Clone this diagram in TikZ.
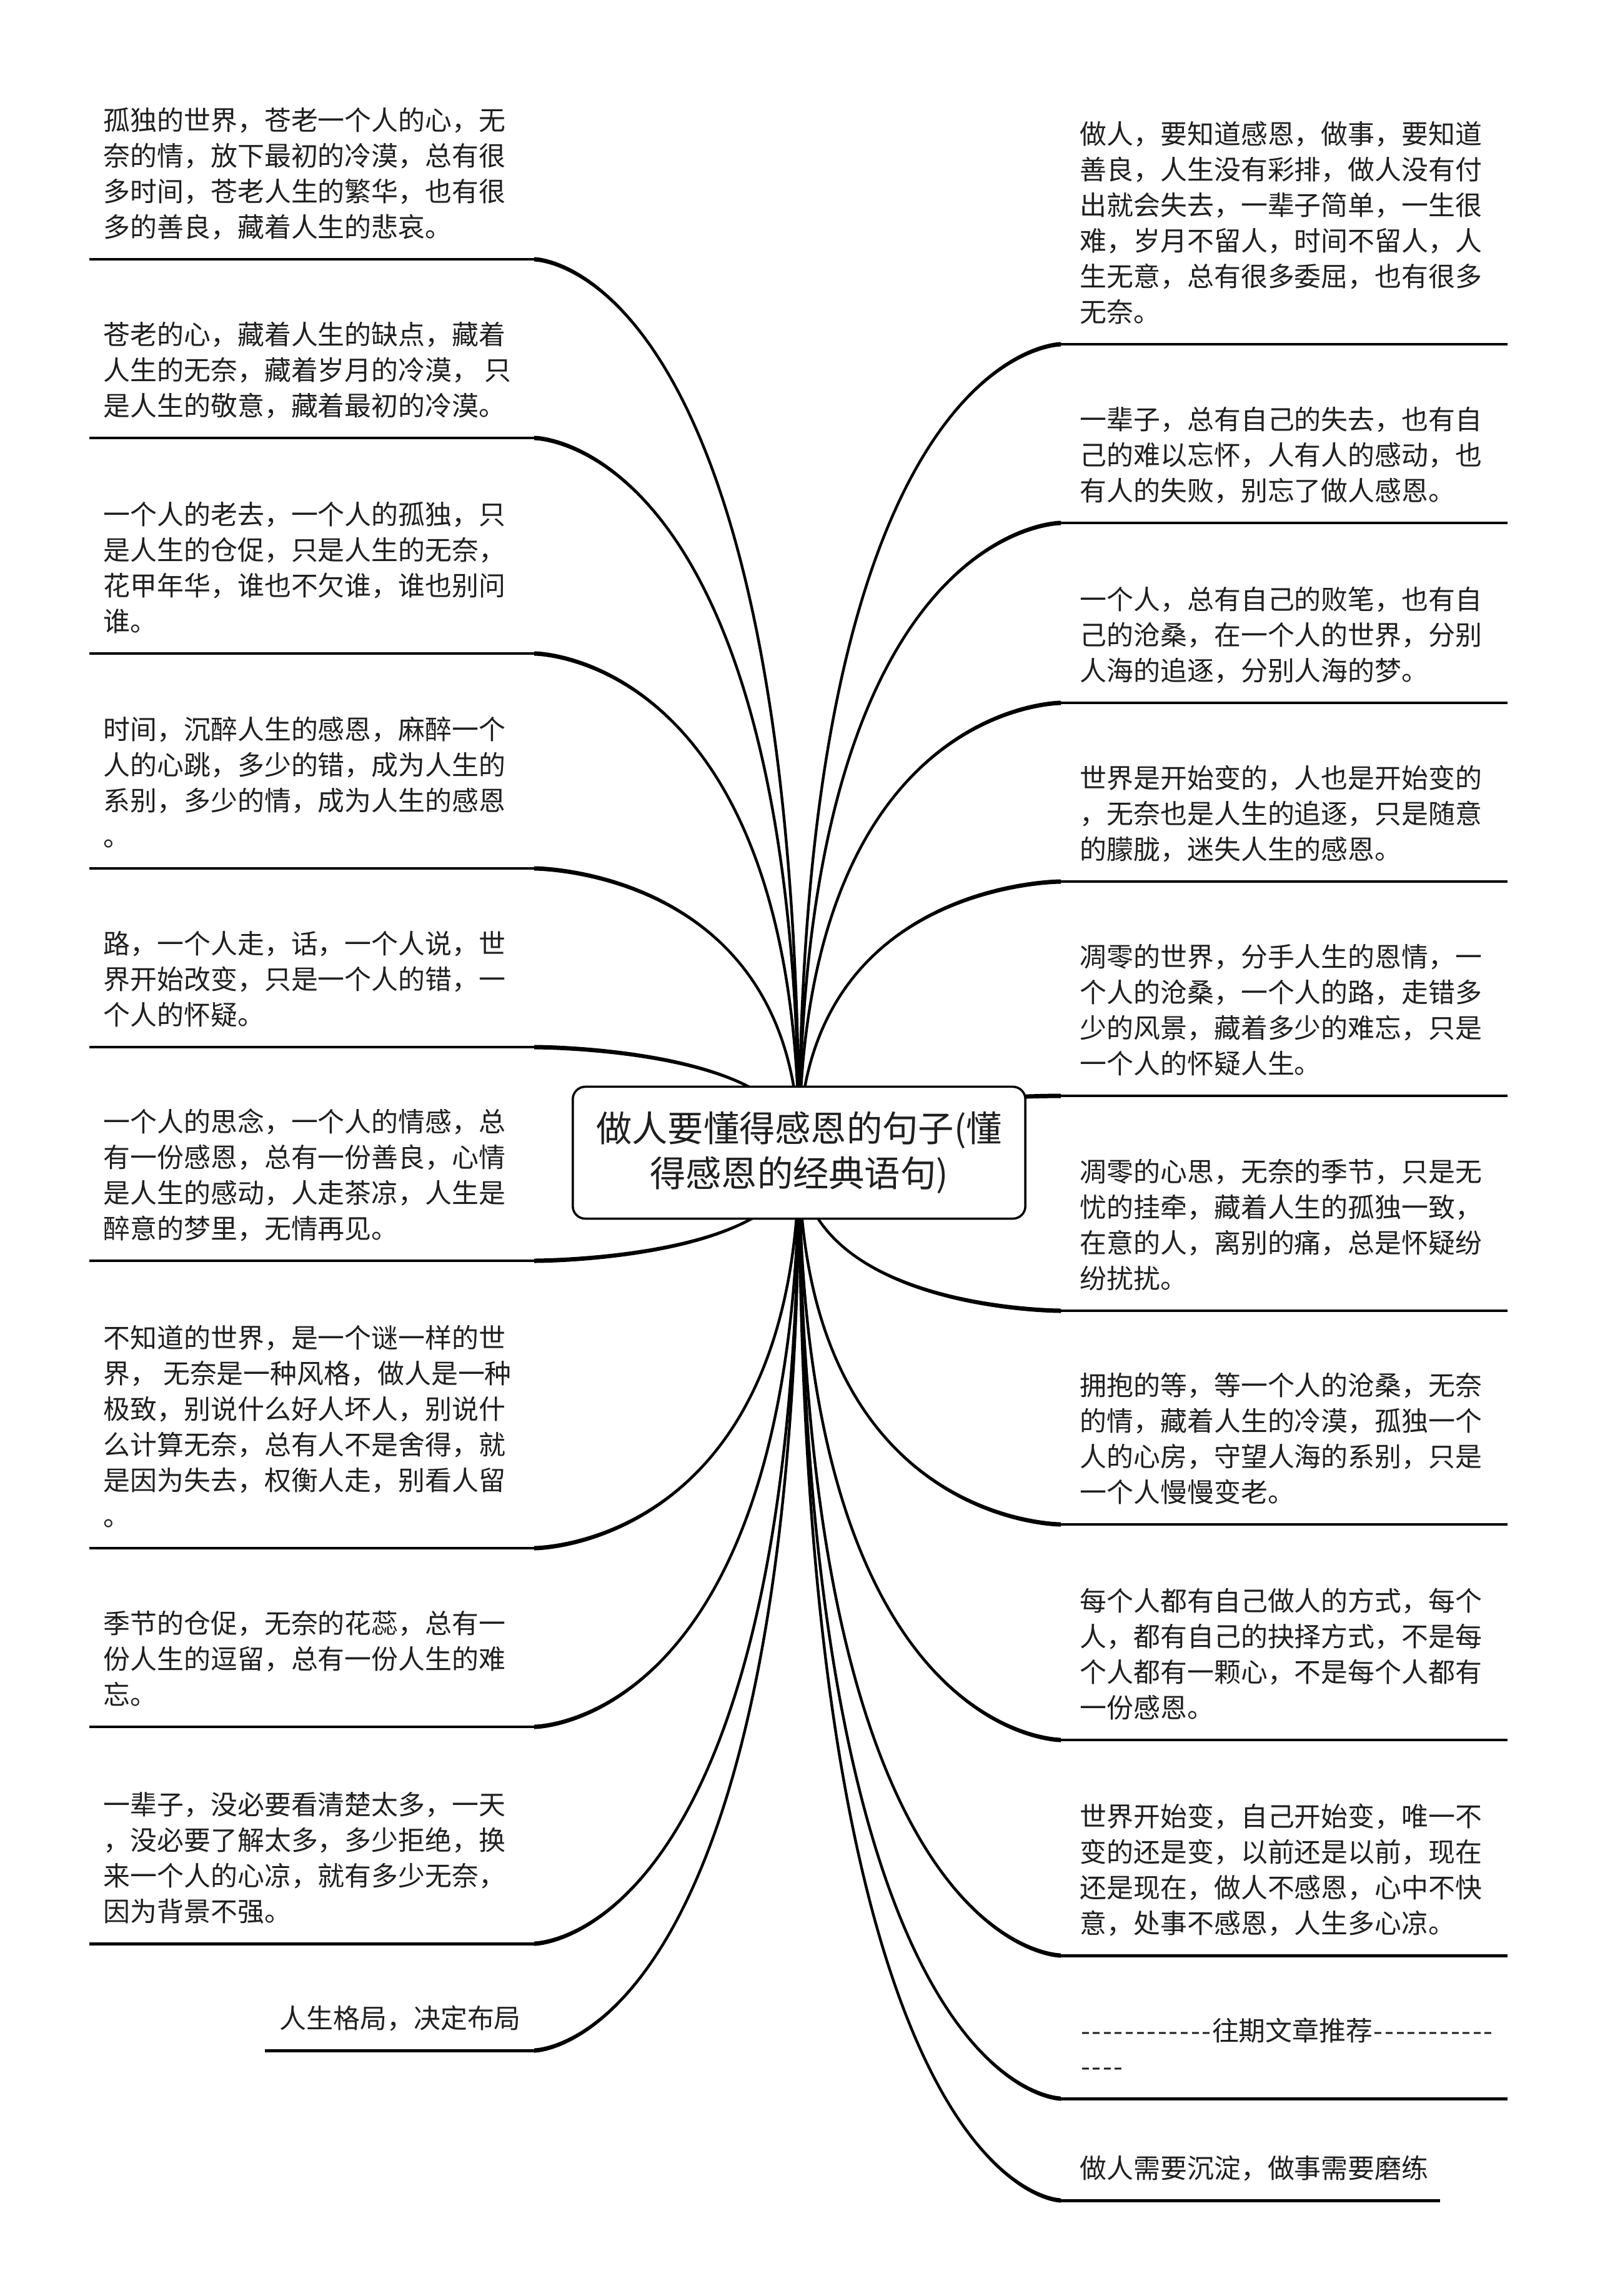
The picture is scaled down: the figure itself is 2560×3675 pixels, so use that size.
\documentclass[tikz,border=0pt]{standalone}
\usepackage{fontspec}
\setmainfont{Noto Sans CJK SC}
\usetikzlibrary{calc}
\pgfdeclarelayer{bg}
\pgfsetlayers{bg,main}
\newcommand\dd{\makebox[0.176cm]{-}}
\tikzset{
  txt/.style={anchor=south west, inner sep=0pt, text depth=0pt, align=left,
    font=\fontsize{12.2}{16.2}\selectfont, text=black!88},
  uline/.style={line width=1.4pt},
  branchline/.style={line width=1.25pt},
  rootbox/.style={draw, line width=1pt, rounded corners=0.2cm, minimum width=7.24cm,
    minimum height=2.11cm, align=center, fill=white, text=black!88,
    font=\fontsize{16.3}{20.7}\selectfont}
}
\newcommand\branch[1]{%
  \draw[branchline] (root.center) .. controls (root.center |- #1) and (#1) .. (#1);
  \fill (root.center) .. controls ($(root.center |- #1)+(0,-3.5)$) and ($(#1)+(0,-3.5)$) .. ($(#1)+(0,-3.5)$)
    -- ($(#1)+(0,3.5)$) .. controls ($(#1)+(0,3.5)$) and ($(root.center |- #1)+(0,3.5)$) .. (root.center) -- cycle;
}
% #1 name, #2 junction x, #3 far x, #4 text x, #5 underline y, #6 text
\newcommand\citem[6]{%
  \coordinate (#1) at (#2,#5);
  \coordinate (#1f) at (#3,#5);
  \node[txt] (#1t) at (#4,#5-35) {#6};
  \begin{pgfonlayer}{bg}
    \draw[uline] (#1) -- (#1f);
    \branch{#1}
  \end{pgfonlayer}
}
\begin{document}
\begin{tikzpicture}[x=0.01cm,y=-0.01cm]
\begin{pgfonlayer}{bg}
  \fill[white] (0,0) rectangle (2560,3675);
\end{pgfonlayer}
\useasboundingbox (0,0) rectangle (2560,3675);

\node[rootbox] (root) at (1279,1845) {做人要懂得感恩的句子(懂\\得感恩的经典语句)};

% left side
\citem{l1}{855}{143}{165}{415}{孤独的世界，苍老一个人的心，无\\奈的情，放下最初的冷漠，总有很\\多时间，苍老人生的繁华，也有很\\多的善良，藏着人生的悲哀。}
\citem{l2}{855}{143}{165}{701}{苍老的心，藏着人生的缺点，藏着\\人生的无奈，藏着岁月的冷漠， 只\\是人生的敬意，藏着最初的冷漠。}
\citem{l3}{855}{143}{165}{1046}{一个人的老去，一个人的孤独，只\\是人生的仓促，只是人生的无奈，\\花甲年华，谁也不欠谁，谁也别问\\谁。}
\citem{l4}{855}{143}{165}{1390}{时间，沉醉人生的感恩，麻醉一个\\人的心跳，多少的错，成为人生的\\系别，多少的情，成为人生的感恩\\。}
\citem{l5}{855}{143}{165}{1676}{路，一个人走，话，一个人说，世\\界开始改变，只是一个人的错，一\\个人的怀疑。}
\citem{l6}{855}{143}{165}{2018}{一个人的思念，一个人的情感，总\\有一份感恩，总有一份善良，心情\\是人生的感动，人走茶凉，人生是\\醉意的梦里，无情再见。}
\citem{l7}{855}{143}{165}{2478}{不知道的世界，是一个谜一样的世\\界， 无奈是一种风格，做人是一种\\极致，别说什么好人坏人，别说什\\么计算无奈，总有人不是舍得，就\\是因为失去，权衡人走，别看人留\\。}
\citem{l8}{855}{143}{165}{2764}{季节的仓促，无奈的花蕊，总有一\\份人生的逗留，总有一份人生的难\\忘。}
\citem{l9}{855}{143}{165}{3111}{一辈子，没必要看清楚太多，一天\\，没必要了解太多，多少拒绝，换\\来一个人的心凉，就有多少无奈，\\因为背景不强。}
\citem{l10}{855}{424}{447}{3282}{人生格局，决定布局}

% right side
\citem{r1}{1698}{2413}{1728}{551}{做人，要知道感恩，做事，要知道\\善良，人生没有彩排，做人没有付\\出就会失去，一辈子简单，一生很\\难，岁月不留人，时间不留人，人\\生无意，总有很多委屈，也有很多\\无奈。}
\citem{r2}{1698}{2413}{1728}{837}{一辈子，总有自己的失去，也有自\\己的难以忘怀，人有人的感动，也\\有人的失败，别忘了做人感恩。}
\citem{r3}{1698}{2413}{1728}{1125}{一个人，总有自己的败笔，也有自\\己的沧桑，在一个人的世界，分别\\人海的追逐，分别人海的梦。}
\citem{r4}{1698}{2413}{1728}{1411}{世界是开始变的，人也是开始变的\\，无奈也是人生的追逐，只是随意\\的朦胧，迷失人生的感恩。}
\citem{r5}{1698}{2413}{1728}{1754}{凋零的世界，分手人生的恩情，一\\个人的沧桑，一个人的路，走错多\\少的风景，藏着多少的难忘，只是\\一个人的怀疑人生。}
\citem{r6}{1698}{2413}{1728}{2098}{凋零的心思，无奈的季节，只是无\\忧的挂牵，藏着人生的孤独一致，\\在意的人，离别的痛，总是怀疑纷\\纷扰扰。}
\citem{r7}{1698}{2413}{1728}{2440}{拥抱的等，等一个人的沧桑，无奈\\的情，藏着人生的冷漠，孤独一个\\人的心房，守望人海的系别，只是\\一个人慢慢变老。}
\citem{r8}{1698}{2413}{1728}{2785}{每个人都有自己做人的方式，每个\\人，都有自己的抉择方式，不是每\\个人都有一颗心，不是每个人都有\\一份感恩。}
\citem{r9}{1698}{2413}{1728}{3130}{世界开始变，自己开始变，唯一不\\变的还是变，以前还是以前，现在\\还是现在，做人不感恩，心中不快\\意，处事不感恩，人生多心凉。}
\citem{r10}{1698}{2413}{1728}{3359}{\dd\dd\dd\dd\dd\dd\dd\dd\dd\dd\dd\dd 往期文章推荐\dd\dd\dd\dd\dd\dd\dd\dd\dd\dd\dd\\\dd\dd\dd\dd}
\citem{r11}{1698}{2305}{1728}{3522}{做人需要沉淀，做事需要磨练}
\end{tikzpicture}
\end{document}
